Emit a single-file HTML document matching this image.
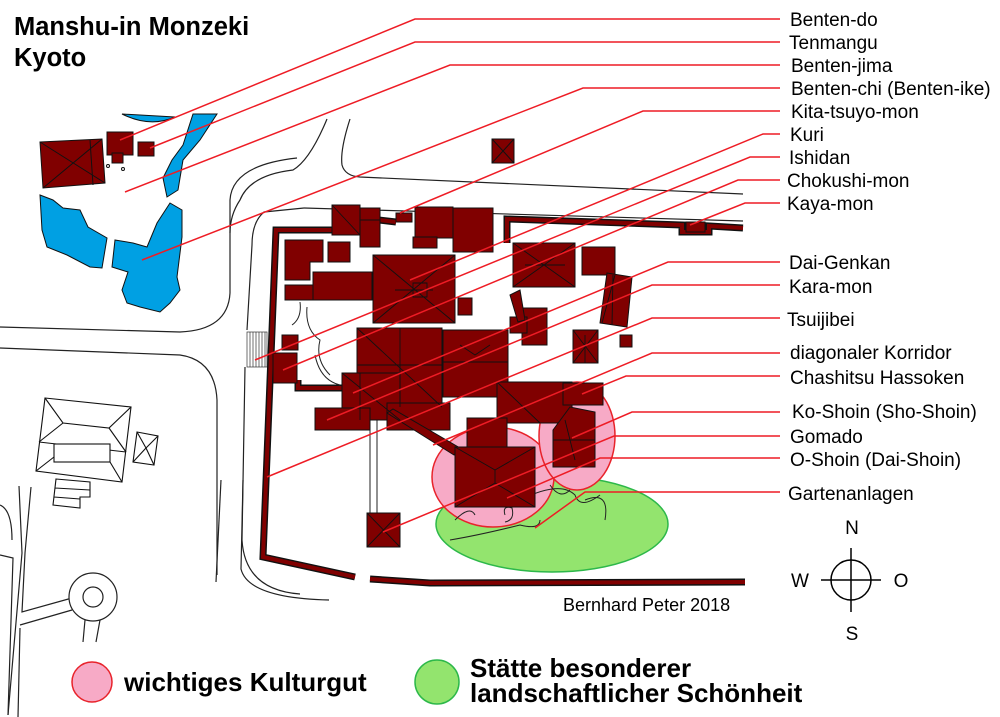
<!DOCTYPE html>
<html><head><meta charset="utf-8"><style>
html,body{margin:0;padding:0;background:#fff;}
svg{display:block;}
text{font-family:"Liberation Sans",Arial,sans-serif;}
</style></head><body>
<svg width="1000" height="717" viewBox="0 0 1000 717" xmlns="http://www.w3.org/2000/svg">
<rect width="1000" height="717" fill="#fff"/>
<!-- roads -->
<g fill="none" stroke="#222" stroke-width="1.2">
<path d="M0,327 L180,332 Q228,330 230,293 L230,200 Q232,165 297,158"/>
<path d="M327,119 Q310,160 293,170 Q250,175 240,200 Q230,215 230,233"/>
<path d="M350,119 Q340,150 342,165 Q345,176 360,177 L743,194"/>
<path d="M0,348 L180,355 Q215,360 217,400 L217,575"/>
<path d="M304,208 L264,212 Q252,222 252,245 L247,330"/>
<path d="M304,208 L743,221"/>
<path d="M245,367 L242,540 Q245,590 300,594"/>
<path d="M221,480 L216,582"/>
<path d="M243,480 L241,569 Q248,598 329,600"/>
<path d="M19,486 L22,553 L8,715"/>
<path d="M31,487 L25,553 L22,612 L72,598"/>
<path d="M0,555 L13,558 L8,715"/>
<path d="M20,625 L72,610"/>
<path d="M20,628 L18,717"/>
<circle cx="93" cy="597" r="24" fill="#fff"/>
<circle cx="93" cy="597" r="10"/>
<path d="M85,620 L83,642 M100,620 L96,642"/>
<path d="M0,505 Q12,510 12,540"/>
</g>
<g stroke="#333" stroke-width="0.7">
<rect x="247" y="332" width="20" height="35" fill="#fff" stroke="#333"/>
<path d="M250,332v35M253,332v35M256,332v35M259,332v35M262,332v35M265,332v35"/>
</g>
<g fill="#fff" stroke="#111" stroke-width="1.1">
<polygon points="45,398 131,407 122,482 36,471"/>
<path d="M45,398 L63,423 L109,428 L131,407 M63,423 L39,442 M109,428 L126,452 M39,442 L126,452 M36,471 L54,457 M122,482 L110,462" fill="none"/>
<rect x="54" y="444" width="56" height="18"/>
<polygon points="137,432 158,436 154,465 133,462"/>
<path d="M137,432 L146,448 L158,436 M133,462 L146,448 L154,465" fill="none"/>
<path d="M56,479 L90,482 L90,497 L80,497 L80,508 L53,505 Z M55,488 L90,490 M54,497 L80,499"/>
</g>
<g fill="#00a0e3" stroke="#111" stroke-width="1">
<path d="M122,114 Q150,128 175,117 Z"/>
<polygon points="193,114 217,114 200,140 183,160 178,190 167,197 163,178 172,160 183,145"/>
<polygon points="40,195 53,200 63,208 80,210 88,227 107,238 102,268 90,267 67,255 47,247 42,230"/>
<polygon points="115,240 133,243 147,247 157,223 170,203 182,210 182,237 177,277 180,290 170,303 160,312 140,307 127,303 122,290 128,272 112,267"/>
</g>
<g fill="#800000" stroke="#111" stroke-width="1">
<polygon points="40,142 102,139 105,183 43,188"/>
<path d="M40,142 L105,183 M102,139 L43,188 M90,140 L93,185" fill="none"/>
<rect x="107" y="132" width="26" height="23"/>
<rect x="112" y="153" width="11" height="10"/>
<rect x="138" y="142" width="16" height="14"/>
</g>
<circle cx="108" cy="166" r="1.5" fill="none" stroke="#111"/>
<circle cx="123" cy="169" r="1.5" fill="none" stroke="#111"/>
<ellipse cx="552" cy="524" rx="116" ry="48" fill="#93e46e" stroke="#2db84a" stroke-width="1.5"/>
<ellipse cx="493" cy="477" rx="61" ry="50" fill="#f7aac6" stroke="#e8232b" stroke-width="1.5"/>
<ellipse cx="577" cy="436" rx="38" ry="54" fill="#f7aac6" stroke="#e8232b" stroke-width="1.5"/>
<g fill="none" stroke-linejoin="miter">
<g stroke="#111" stroke-width="7">
<polyline points="332,230 276,230 263,557 355,577"/>
<polyline points="370,579 430,583 745,582"/>
<polyline points="379,220 396,222"/>
<polyline points="507,243 507,219 682,225 682,232 709,232 709,226 743,228"/>
<polyline points="298,380 298,388 342,388"/>
</g>
<g stroke="#800000" stroke-width="4">
<polyline points="332,230 276,230 263,557 355,577"/>
<polyline points="370,579 430,583 745,582"/>
<polyline points="379,220 396,222"/>
<polyline points="507,243 507,219 682,225 682,232 709,232 709,226 743,228"/>
<polyline points="298,380 298,388 342,388"/>
</g>
</g>
<g fill="none" stroke="#222" stroke-width="1">
<path d="M370,420 L370,515 M377,420 L377,515"/>
<path d="M300,302 Q302,318 292,325 M307,307 Q305,330 320,340 Q315,360 330,375 M315,355 Q320,380 340,385"/>
<path d="M455,520 Q470,505 475,515 M505,515 Q502,505 512,508 Q515,520 505,522 M520,500 Q560,480 575,495 Q580,510 600,495 M550,485 Q560,500 570,490 M450,540 Q480,535 520,525 Q540,530 540,520 M585,500 Q610,490 605,520"/>
</g>
<g fill="#800000" stroke="#111" stroke-width="1">
<rect x="332" y="205" width="28" height="30"/>
<rect x="360" y="208" width="20" height="39"/>
<rect x="396" y="213" width="16" height="9"/>
<rect x="415" y="207" width="38" height="31"/>
<rect x="453" y="208" width="40" height="44"/>
<rect x="413" y="237" width="24" height="11"/>
<rect x="492" y="139" width="22" height="24"/>
<path d="M492,139 L514,163 M514,139 L492,163" fill="none"/>
<polygon points="285,240 323,240 323,262 310,262 310,280 285,280"/>
<rect x="328" y="242" width="22" height="20"/>
<rect x="313" y="272" width="59" height="28"/>
<rect x="285" y="285" width="28" height="15"/>
<rect x="373" y="255" width="82" height="68"/>
<rect x="458" y="298" width="14" height="17"/>
<rect x="513" y="243" width="62" height="44"/>
<rect x="582" y="247" width="33" height="28"/>
<polygon points="607,273 632,277 627,327 600,323"/>
<rect x="522" y="308" width="25" height="37"/>
<rect x="510" y="317" width="17" height="16"/>
<polygon points="510,295 520,290 525,320 518,322"/>
<rect x="573" y="330" width="25" height="33"/>
<rect x="620" y="335" width="12" height="12"/>
<rect x="357" y="328" width="85" height="79"/>
<rect x="443" y="330" width="65" height="67"/>
<rect x="342" y="373" width="58" height="47"/>
<rect x="315" y="408" width="55" height="22"/>
<rect x="273" y="353" width="24" height="30"/>
<rect x="282" y="335" width="16" height="15"/>
<rect x="387" y="403" width="63" height="27"/>
<rect x="497" y="382" width="75" height="41"/>
<rect x="563" y="383" width="40" height="22"/>
<rect x="467" y="418" width="40" height="35"/>
<polygon points="387,413 393,409 460,448 454,455"/>
<rect x="455" y="447" width="80" height="60"/>
<polygon points="553,430 570,407 595,412 595,467 553,467"/>
<rect x="367" y="513" width="33" height="34"/>
<rect x="686" y="222" width="19" height="10"/>
</g>
<g fill="none" stroke="#111" stroke-width="0.9">
<path d="M373,255 L455,323 M455,255 L373,323 M395,290 L433,290 M413,283 h14 v14 h-14 z"/>
<path d="M357,328 L442,407 M400,328 L400,407 M357,365 L442,365"/>
<path d="M443,362 L508,362 M460,345 L475,355 L490,345"/>
<path d="M513,243 L575,287 M575,243 L513,287 M525,265 L565,265"/>
<path d="M573,330 L598,363 M598,330 L573,363 M585,335 L585,363"/>
<path d="M455,447 L495,470 L535,447 M455,507 L495,483 L535,507 M495,470 L495,483"/>
<path d="M367,513 L400,547 M400,513 L367,547"/>
<path d="M342,373 L400,420 M360,373 L360,420 M497,382 L540,423 M565,420 L575,460 M553,440 L595,440"/>
<path d="M332,205 L360,235 M360,220 L380,220 M615,275 L602,323 M613,275 L612,325"/>
</g>
<g fill="none" stroke="#ee1c25" stroke-width="1.5">
<polyline points="780,19 415,19 120,140"/>
<polyline points="780,42 415,42 150,148"/>
<polyline points="780,65 450,65 125,192"/>
<polyline points="780,88 583,88 142,260"/>
<polyline points="780,111 643,111 400,213"/>
<polyline points="780,134 763,134 410,280"/>
<polyline points="780,157 750,157 255,360"/>
<polyline points="780,180 738,180 283,370"/>
<polyline points="780,203 745,203 690,225"/>
<polyline points="780,262 668,262 353,393"/>
<polyline points="780,285 652,285 327,420"/>
<polyline points="780,318 652,318 267,477"/>
<polyline points="780,353 652,353 433,445"/>
<polyline points="780,376 626,376 582,394"/>
<polyline points="780,412 632,412 572,438"/>
<polyline points="780,436 614,436 383,532"/>
<polyline points="780,458 600,458 507,498"/>
<polyline points="780,492 585,492 535,528"/>
</g>
<g font-size="19" fill="#000">
<text x="790" y="26">Benten-do</text>
<text x="789" y="49">Tenmangu</text>
<text x="791" y="72">Benten-jima</text>
<text x="791" y="95">Benten-chi (Benten-ike)</text>
<text x="791" y="118">Kita-tsuyo-mon</text>
<text x="790" y="141">Kuri</text>
<text x="789" y="164">Ishidan</text>
<text x="787" y="187">Chokushi-mon</text>
<text x="787" y="210">Kaya-mon</text>
<text x="789" y="269">Dai-Genkan</text>
<text x="789" y="293">Kara-mon</text>
<text x="787" y="326">Tsuijibei</text>
<text x="790" y="359">diagonaler Korridor</text>
<text x="790" y="384">Chashitsu Hassoken</text>
<text x="792" y="418">Ko-Shoin (Sho-Shoin)</text>
<text x="790" y="443">Gomado</text>
<text x="790" y="466">O-Shoin (Dai-Shoin)</text>
<text x="788" y="500">Gartenanlagen</text>
<text x="563" y="611" font-size="18">Bernhard Peter 2018</text>
</g>
<text x="14" y="35" font-size="25.5" font-weight="bold">Manshu-in Monzeki</text>
<text x="14" y="66" font-size="25.5" font-weight="bold">Kyoto</text>
<g fill="none" stroke="#000" stroke-width="1.5">
<circle cx="851" cy="580" r="20"/>
<path d="M821,580 H881 M851,548 V612"/>
</g>
<g font-size="19" fill="#000" text-anchor="middle">
<text x="852" y="534">N</text>
<text x="852" y="640">S</text>
<text x="800" y="587">W</text>
<text x="901" y="587">O</text>
</g>
<circle cx="92" cy="682" r="20" fill="#f7aac6" stroke="#e8232b" stroke-width="1.5"/>
<circle cx="437" cy="682" r="22" fill="#93e46e" stroke="#2db84a" stroke-width="1.5"/>
<g font-size="26" font-weight="bold" fill="#000">
<text x="124" y="691">wichtiges Kulturgut</text>
<text x="470" y="677">Stätte besonderer</text>
<text x="470" y="702">landschaftlicher Schönheit</text>
</g>
</svg>
</body></html>
